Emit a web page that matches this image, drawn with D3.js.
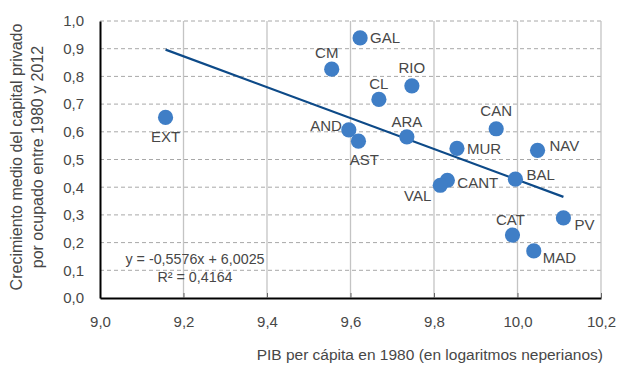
<!DOCTYPE html>
<html>
<head>
<meta charset="utf-8">
<script src="https://cdn.jsdelivr.net/npm/d3@7"></script>
<style>
  body { margin: 0; background: #fff; }
  svg text { font-family: "Liberation Sans", Arial, Helvetica, sans-serif; fill: #474747; }
</style>
</head>
<body>
<script>
// regiones y valores
var regions = ["EXT", "GAL", "CM", "RIO", "CL", "CAN", "AND", "AST", "ARA", "MUR", "NAV", "BAL", "CANT", "VAL", "PV", "CAT", "MAD"];
var pib1980 = [9.157, 9.623, 9.555, 9.747, 9.668, 9.949, 9.596, 9.619, 9.735, 9.855, 10.048, 9.995, 9.832, 9.815, 10.110, 9.988, 10.039];
var crecimiento = [0.652, 0.939, 0.826, 0.766, 0.717, 0.611, 0.607, 0.566, 0.582, 0.540, 0.533, 0.429, 0.425, 0.407, 0.289, 0.227, 0.170];
var xTicks = [9.0, 9.2, 9.4, 9.6, 9.8, 10.0, 10.2];
var yTicks = [0, 0.1, 0.2, 0.3, 0.4, 0.5, 0.6, 0.7, 0.8, 0.9, 1.0];
var slope = -0.5576, intercept = 6.0025;
var eqLines = ["y = -0,5576x + 6,0025", "R\u00b2 = 0,4164"];

// donde va cada etiqueta respecto al punto
var labelPos = {
  EXT: ["middle", 0, 19], GAL: ["start", 10, 0], CM: ["middle", -5, -16], RIO: ["middle", 0, -18],
  CL: ["middle", 0, -16], CAN: ["middle", 0, -18], AND: ["end", -7, -4], AST: ["middle", 6, 19],
  ARA: ["middle", 0, -15], MUR: ["start", 10, 0], NAV: ["start", 12, -5], BAL: ["start", 11, -4],
  CANT: ["start", 10, 2], VAL: ["end", -9, 10], PV: ["start", 11, 7], CAT: ["middle", -2, -15],
  MAD: ["start", 9, 7]
};

var width = 619, height = 365;
var fmt = d3.formatLocale({decimal: ",", thousands: ".", grouping: [3], currency: ["", ""]}).format(".1f");

var svg = d3.select("body").append("svg")
    .attr("width", width)
    .attr("height", height);

var x = d3.scaleLinear().domain([9.0, 10.2]).range([100, 601]);
var y = d3.scaleLinear().domain([0, 1]).range([298, 21]);

// rejilla horizontal discontinua
svg.append("g").selectAll("line")
  .data(yTicks.slice(1))
  .join("line")
    .attr("x1", x(9.0)).attr("x2", x(10.2))
    .attr("y1", d => y(d)).attr("y2", d => y(d))
    .attr("stroke", "#a8a8a8")
    .attr("stroke-dasharray", "4,3");

// rejilla vertical
svg.append("g").selectAll("line")
  .data(xTicks.slice(1))
  .join("line")
    .attr("x1", d => x(d)).attr("x2", d => x(d))
    .attr("y1", y(1)).attr("y2", y(0))
    .attr("stroke", "#c4c4c4")
    .attr("stroke-width", 1.3);

// eje x
var xAxis = svg.append("g")
    .attr("transform", "translate(0," + y(0) + ")")
    .call(d3.axisBottom(x).tickValues(xTicks).tickFormat(fmt).tickSizeInner(-5).tickSizeOuter(0).tickPadding(18));
xAxis.select(".domain").attr("stroke", "#000").attr("stroke-width", 2);
xAxis.selectAll(".tick line").attr("stroke", "#666");
xAxis.selectAll(".tick text").attr("font-size", 15).attr("fill", "#474747");

// eje y
var yAxis = svg.append("g")
    .attr("transform", "translate(" + x(9.0) + ",0)")
    .call(d3.axisLeft(y).tickValues(yTicks).tickFormat(fmt).tickSize(0).tickPadding(16));
yAxis.select(".domain").attr("stroke", "#000").attr("stroke-width", 2);
yAxis.selectAll(".tick text").attr("font-size", 15).attr("fill", "#474747");

// linea de tendencia
var xr = d3.extent(pib1980);
svg.append("line")
    .attr("x1", x(xr[0])).attr("y1", y(slope * xr[0] + intercept))
    .attr("x2", x(xr[1])).attr("y2", y(slope * xr[1] + intercept))
    .attr("stroke", "#0d4a88")
    .attr("stroke-width", 2.2);

// puntos
var pts = regions.map((r, i) => ({name: r, px: pib1980[i], cy: crecimiento[i]}));
svg.append("g").selectAll("circle")
  .data(pts)
  .join("circle")
    .attr("cx", d => x(d.px))
    .attr("cy", d => y(d.cy))
    .attr("r", 7.6)
    .attr("fill", "#3f7ec6");

svg.append("g").selectAll("text")
  .data(pts)
  .join("text")
    .attr("x", d => x(d.px) + labelPos[d.name][1])
    .attr("y", d => y(d.cy) + labelPos[d.name][2])
    .attr("dy", "0.35em")
    .attr("text-anchor", d => labelPos[d.name][0])
    .attr("font-size", 15)
    .text(d => d.name);

// ecuacion
svg.append("g").selectAll("text")
  .data(eqLines)
  .join("text")
    .attr("x", 195)
    .attr("y", (d, i) => 259 + i * 17.5)
    .attr("dy", "0.35em")
    .attr("text-anchor", "middle")
    .attr("font-size", 14.3)
    .text(d => d);

// titulos
svg.append("text")
    .attr("x", 603)
    .attr("y", 355)
    .attr("dy", "0.35em")
    .attr("text-anchor", "end")
    .attr("font-size", 15.5)
    .text("PIB per c\u00e1pita en 1980 (en logaritmos neperianos)");

var yt = svg.append("text")
    .attr("transform", "translate(16,157) rotate(-90)")
    .attr("text-anchor", "middle")
    .attr("font-size", 16);
yt.append("tspan").attr("x", 0).attr("dy", "0.35em").text("Crecimiento medio del capital privado");
yt.append("tspan").attr("x", 0).attr("dy", 21).text("por ocupado entre 1980 y 2012");
</script>
</body>
</html>
